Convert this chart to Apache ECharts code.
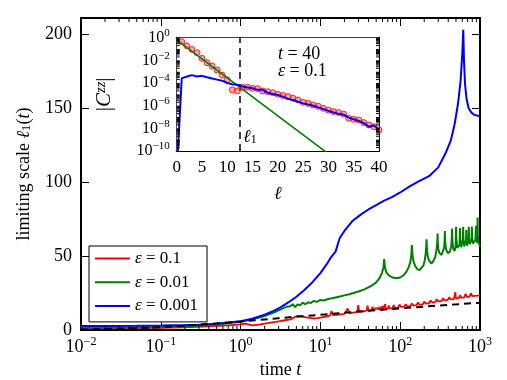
<!DOCTYPE html>
<html>
<head>
<meta charset="utf-8">
<script src="https://cdn.jsdelivr.net/npm/echarts@6/dist/echarts.min.js"></script>
<style>
  html, body { margin: 0; padding: 0; background: #fff; }
  #main { width: 507px; height: 380px; }
</style>
</head>
<body>
<div id="main"></div>
<script>
const SERIF = "'Liberation Serif', 'DejaVu Serif', serif";

// main panel: limiting scale vs time
const tBlue = [0.01, 0.02, 0.05, 0.1, 0.2, 0.3, 0.5, 0.7, 1.0, 1.4, 2.0, 2.5, 3.2, 4.0, 5.0, 6.3, 8.0, 10, 12, 13.5, 14.2, 14.8, 15.5, 17.4, 20, 25, 32, 40, 50, 63, 80, 100, 130, 170, 230, 300, 370, 430, 480, 530, 570, 600, 617, 630, 650, 680, 720, 780, 850, 1000];
const yBlue = [2.7, 2.7, 2.8, 3.0, 3.3, 3.6, 4.3, 5.0, 6.0, 7.6, 10.3, 12.5, 15.5, 18.8, 22.5, 27, 32.5, 38.5, 44.5, 49, 50.5, 49.2, 53, 62, 67, 73.5, 78, 81.5, 84.5, 87.5, 90, 93, 97, 100.5, 104, 110, 119.5, 128, 139, 153, 168, 187, 203, 182, 166, 156, 150, 147, 145.5, 144.6];

const tGreen = [0.01, 0.05, 0.1, 0.3, 0.6, 1.0, 1.5, 2.0, 2.6, 3.2, 3.8, 4.2, 4.5, 4.8, 5.2, 5.6, 6.0, 6.5, 7.0, 7.6, 8.2, 9.0, 10, 11, 12.5, 14, 16, 18, 20, 23, 26, 30, 35, 40, 45, 50, 55, 59, 61.5, 63, 64.5, 67, 72, 80, 90, 100, 110, 120, 128, 134, 138, 140, 142.5, 147, 155, 165, 175, 185, 195, 203, 209, 212, 214, 216, 221, 230, 245, 260, 275, 285, 291, 294, 296, 300, 310, 330, 345, 356, 361, 363, 366, 375, 395, 420, 437, 444, 447, 451, 462, 480, 493, 499, 502, 506, 520, 540, 553, 559, 562, 566, 580, 598, 610, 615, 620, 635, 655, 668, 674, 678, 690, 712, 720, 724, 729, 745, 770, 785, 791, 797, 815, 850, 875, 887, 891, 897, 915, 927, 933, 940, 960, 985, 1000];
const yGreen = [1.6, 1.8, 2.0, 2.8, 4.0, 5.5, 7.5, 9.5, 11.8, 14.0, 15.8, 16.0, 17.5, 15.5, 17.2, 16.8, 18.5, 17.4, 18.8, 18.2, 19.6, 19.0, 20.3, 20.0, 21.0, 21.5, 22.2, 22.8, 23.4, 24.2, 25.0, 26.0, 27.3, 28.8, 30.4, 32.2, 35, 38.5, 42, 48, 42, 39, 37, 35.5, 35, 35.5, 37, 39.5, 42.5, 46, 51, 57.4, 51, 46, 43, 41, 40.5, 41.5, 43.5, 47, 52, 57, 61.3, 55, 50, 47, 45, 46.5, 49.5, 54, 59, 65.3, 59, 55, 52, 50.7, 52, 56, 62, 67, 60, 54.5, 52, 53, 57, 63, 68.7, 60, 55, 53.5, 56, 63, 69.8, 61, 55.5, 55, 57.5, 64, 69, 61, 56, 56.5, 61, 69.8, 61, 56.5, 57, 61, 67.6, 61, 57, 58, 63, 69.8, 62, 58, 58, 62, 70, 62, 58.5, 58, 61, 67, 70.5, 62, 59, 64, 76, 63, 59, 57.5, 56.3];

const tRed = [0.01, 0.03, 0.1, 0.2, 0.4, 0.7, 1.0, 1.15, 1.2, 1.4, 1.7, 2.0, 2.5, 3.0, 3.6, 4.2, 4.6, 5.0, 5.5, 6.0, 6.6, 7.3, 8.2, 9.2, 10.5, 12, 13.2, 13.8, 14.4, 16, 18, 20, 21, 22, 23, 25, 27, 29, 29.8, 30.6, 33, 35.5, 38, 39, 40, 42, 44, 45, 46, 48, 50, 51, 53, 55, 56, 58, 60, 61, 63, 65, 66, 68, 70, 72, 74, 77, 80, 83, 86, 90, 94, 98, 102, 107, 112, 117, 122, 128, 134, 140, 146, 153, 160, 167, 175, 183, 192, 200, 210, 220, 230, 240, 252, 263, 275, 288, 300, 315, 330, 345, 360, 378, 395, 413, 430, 450, 470, 490, 500, 520, 540, 565, 585, 610, 635, 660, 685, 710, 740, 770, 800, 830, 865, 900, 935, 970, 1000];
const yRed = [1.2, 1.3, 1.5, 1.8, 2.4, 3.1, 3.8, 4.3, 3.2, 3.1, 3.6, 4.3, 5.2, 5.8, 6.6, 7.2, 8.2, 9.3, 9.6, 9.0, 8.6, 8.2, 7.9, 8.1, 8.6, 9.3, 9.8, 12.8, 10.0, 10.3, 10.6, 10.9, 11.2, 14.6, 11.3, 11.6, 11.9, 12.2, 16.9, 12.3, 12.5, 12.8, 13.1, 16.5, 13.0, 13.3, 13.4, 15.8, 13.5, 13.6, 14.8, 13.6, 14.0, 15.6, 13.7, 14.1, 16.2, 14.0, 14.5, 17.5, 14.3, 15.0, 14.4, 16.6, 14.6, 15.4, 14.8, 16.9, 15.0, 15.8, 15.2, 17.2, 15.6, 16.4, 15.8, 17.5, 16.0, 16.8, 16.2, 18.0, 16.5, 17.4, 16.8, 18.6, 17.0, 18.0, 17.4, 19.2, 17.8, 18.8, 18.1, 20.0, 18.6, 19.6, 18.9, 20.8, 19.3, 20.2, 19.6, 21.5, 20.0, 21.0, 20.4, 22.2, 20.7, 21.8, 20.9, 25.5, 21.5, 22.3, 21.4, 23.5, 21.8, 22.8, 22.0, 24.5, 22.4, 23.2, 22.6, 24.8, 22.9, 23.8, 23.1, 24.2, 23.3, 24.6, 23.6];

const tFit = [0.01, 0.03, 0.1, 0.3, 1, 3, 10, 30, 100, 300, 1000];
const yFit = [0.3, 0.9, 1.8, 3.6, 5.7, 8.0, 10.3, 12.5, 14.6, 16.5, 18.5];

// inset: |C^zz| vs distance at t = 40, eps = 0.1
const insetL = [0, 1, 2, 3, 4, 5, 6, 7, 8, 9, 10, 11, 12, 13, 14, 15, 16, 17, 18, 19, 20, 21, 22, 23, 24, 25, 26, 27, 28, 29, 30, 31, 32, 33, 34, 35, 36, 37, 38, 39, 40];
const insetBlue = [1e-12, 2.6e-4, 3.7e-4, 5.0e-4, 3.7e-4, 4.3e-4, 3.2e-4, 2.5e-4, 2.0e-4, 1.6e-4, 1.0e-4, 7.9e-5, 7.1e-5, 5.0e-5, 4.0e-5, 3.4e-5, 2.5e-5, 2.5e-5, 1.4e-5, 1.07e-5, 8.7e-6, 6.3e-6, 4.0e-6, 3.2e-6, 2.2e-6, 1.6e-6, 1.26e-6, 1.0e-6, 7.1e-7, 5.0e-7, 3.5e-7, 2.5e-7, 1.9e-7, 1.6e-7, 8.9e-8, 6.3e-8, 4.5e-8, 2.8e-8, 1.4e-8, 1.8e-8, 8.0e-9];
const insetRedL = [1, 2, 3, 4, 5, 6, 7, 8, 9, 10, 11, 12, 13, 14, 15, 16, 17, 18, 19, 20, 21, 22, 23, 24, 25, 26, 27, 28, 29, 30, 31, 32, 33, 34, 35, 36, 37, 38, 39, 40];
const insetRed = [0.45, 0.19, 0.093, 0.048, 0.015, 6.3e-3, 3.2e-3, 1.4e-3, 5.0e-4, 1.9e-4, 2.5e-5, 2.0e-5, 4.2e-5, 4.2e-5, 3.4e-5, 3.2e-5, 2.0e-5, 1.7e-5, 1.4e-5, 1.0e-5, 7.9e-6, 6.3e-6, 4.5e-6, 3.2e-6, 2.0e-6, 1.6e-6, 1.15e-6, 8.9e-7, 5.9e-7, 4.0e-7, 3.0e-7, 2.5e-7, 1.8e-7, 7.8e-8, 6.3e-8, 5.5e-8, 3.2e-8, 2.0e-8, 1.4e-8, 7.1e-9];
const fitL = [0, 30];
const fitC = [0.63, 5.6e-11];
const ell1 = 12.5;

// tick labels
const mainXSup = ['−2', '−1', '0', '1', '2', '3'];          // exponents 10^-2 .. 10^3
const insetYSup = ['−10', '', '−8', '', '−6', '', '−4', '', '−2', '', '0']; // 10^-10 .. 10^0
const minorMult = [2, 3, 4, 5, 6, 7, 8, 9];
const mainDecades = [0.01, 0.1, 1, 10, 100];
const insetDecades = [1e-10, 1e-9, 1e-8, 1e-7, 1e-6, 1e-5, 1e-4, 1e-3, 1e-2, 1e-1];

const zip = (a, b) => a.map((v, i) => [v, b[i]]);
const minorOf = decs => decs.flatMap(d => minorMult.map(m => m * d));

const supRich = (big, small) => ({
  b: { fontFamily: SERIF, fontSize: big, lineHeight: big + 4, color: '#000' },
  s: { fontFamily: SERIF, fontSize: small, lineHeight: small, verticalAlign: 'top', color: '#000' }
});
const mathRich = size => ({
  n: { fontFamily: SERIF, fontSize: size, color: '#000' },
  i: { fontFamily: SERIF, fontSize: size, fontStyle: 'italic', color: '#000' },
  sup: { fontFamily: SERIF, fontSize: size * 0.7, fontStyle: 'italic', verticalAlign: 'top', color: '#000' },
  sub: { fontFamily: SERIF, fontSize: size * 0.7, verticalAlign: 'bottom', color: '#000' }
});

// inward ticks drawn through the axes' own scales
function extraTicks(xAxisIndex, yAxisIndex, values, dim, ends, len) {
  return {
    type: 'custom', xAxisIndex, yAxisIndex, silent: true, z: 10, clip: false,
    data: values.map(v => dim === 'x' ? [v, ends[0]] : [ends[0], v]),
    renderItem(params, api) {
      const v = api.value(dim === 'x' ? 0 : 1);
      const lo = dim === 'x' ? api.coord([v, ends[0]]) : api.coord([ends[0], v]);
      const hi = dim === 'x' ? api.coord([v, ends[1]]) : api.coord([ends[1], v]);
      const segs = dim === 'x'
        ? [[lo[0], lo[1], lo[0], lo[1] - len], [hi[0], hi[1], hi[0], hi[1] + len]]
        : [[lo[0], lo[1], lo[0] + len, lo[1]], [hi[0], hi[1], hi[0] - len, hi[1]]];
      return {
        type: 'group',
        children: segs.map(s => ({
          type: 'line',
          shape: { x1: s[0], y1: s[1], x2: s[2], y2: s[3] },
          style: { stroke: '#000', lineWidth: 1 }
        }))
      };
    }
  };
}

const frame = { show: true, onZero: false, lineStyle: { color: '#000', width: 2 } };
const tick = len => ({ show: true, inside: true, length: len, lineStyle: { color: '#000', width: 1 } });

const chart = echarts.init(document.getElementById('main'));
const option = {
  animation: false,
  backgroundColor: '#fff',
  grid: [
    { left: 81, top: 18, width: 399, height: 312, outerBoundsMode: 'none', containLabel: false },
    { left: 176.7, top: 37.7, width: 202.3, height: 113.3, outerBoundsMode: 'none', containLabel: false,
      show: true, backgroundColor: '#fff', borderWidth: 0, z: 5 }
  ],
  xAxis: [
    {
      type: 'log', logBase: 10, min: 0.01, max: 1000, gridIndex: 0,
      axisLine: frame, axisTick: tick(8), splitLine: { show: false },
      axisLabel: {
        margin: 6,
        formatter: v => '{b|10}{s|' + mainXSup[Math.round(Math.log10(v)) + 2] + '}',
        rich: supRich(18, 12)
      },
      name: '{n|time }{i|t}', nameLocation: 'middle', nameGap: 28,
      nameTextStyle: { rich: mathRich(18) }
    },
    {
      type: 'log', logBase: 10, min: 0.01, max: 1000, gridIndex: 0, position: 'top',
      axisLine: frame, axisTick: tick(8), axisLabel: { show: false }, splitLine: { show: false }
    },
    {
      type: 'value', min: 0, max: 40, interval: 5, gridIndex: 1,
      axisLine: frame, axisTick: tick(6), splitLine: { show: false },
      axisLabel: { margin: 8, fontFamily: SERIF, fontSize: 17, color: '#000' },
      name: '{i|ℓ}', nameLocation: 'middle', nameGap: 34,
      nameTextStyle: { rich: mathRich(18) }
    },
    {
      type: 'value', min: 0, max: 40, interval: 5, gridIndex: 1, position: 'top',
      axisLine: frame, axisTick: tick(6), axisLabel: { show: false }, splitLine: { show: false }
    }
  ],
  yAxis: [
    {
      type: 'value', min: 0, max: 211, interval: 50, gridIndex: 0,
      axisLine: frame, axisTick: tick(8), splitLine: { show: false },
      axisLabel: { margin: 9, fontFamily: SERIF, fontSize: 18, color: '#000', showMaxLabel: false },
      name: '{n|limiting scale }{i|ℓ}{sub|1}{n|(}{i|t}{n|)}', nameLocation: 'middle', nameGap: 48,
      nameTextStyle: { rich: mathRich(18) }
    },
    {
      type: 'value', min: 0, max: 211, interval: 50, gridIndex: 0, position: 'right',
      axisLine: frame, axisTick: tick(8), axisLabel: { show: false }, splitLine: { show: false }
    },
    {
      type: 'log', logBase: 10, min: 1e-10, max: 1, interval: 1, splitNumber: 10, gridIndex: 1,
      axisLine: frame, axisTick: tick(6), splitLine: { show: false },
      axisLabel: {
        margin: 7, hideOverlap: false, showMinLabel: true, showMaxLabel: true,
        formatter: v => {
          const s = insetYSup[Math.round(Math.log10(v)) + 10];
          return s ? '{b|10}{s|' + s + '}' : '';
        },
        rich: supRich(16, 11)
      },
      name: '{n||}{i|C}{sup|zz}{n||}', nameLocation: 'middle', nameGap: 62,
      nameTextStyle: { rich: mathRich(21) }
    },
    {
      type: 'log', logBase: 10, min: 1e-10, max: 1, interval: 1, splitNumber: 10, gridIndex: 1, position: 'right',
      axisLine: frame, axisTick: tick(6), axisLabel: { show: false }, splitLine: { show: false }
    }
  ],
  legend: {
    orient: 'vertical', left: 89, top: 246,
    data: ['ε = 0.1', 'ε = 0.01', 'ε = 0.001'],
    icon: 'rect', itemWidth: 35, itemHeight: 2, itemGap: 6.7, itemTextGap: 13,
    padding: [4, 9, 7.5, 6],
    backgroundColor: '#fff', borderColor: '#000', borderWidth: 1,
    formatter: name => '{i|ε}{n|' + name.slice(1) + '}',
    textStyle: { lineHeight: 17, rich: mathRich(17) }
  },
  graphic: [
    { type: 'text', left: 278, top: 45, z: 100, style: { text: '{i|t}{n| = 40}', rich: mathRich(18) } },
    { type: 'text', left: 278, top: 62, z: 100, style: { text: '{i|ε}{n| = 0.1}', rich: mathRich(18) } },
    { type: 'text', left: 243, top: 128, z: 100, style: { text: '{i|ℓ}{sub|1}', rich: mathRich(18) } }
  ],
  series: [
    {
      name: 'ε = 0.1', type: 'line', xAxisIndex: 0, yAxisIndex: 0, showSymbol: false,
      data: zip(tRed, yRed), color: '#ff0000', lineStyle: { width: 1.8 }
    },
    {
      name: 'ε = 0.01', type: 'line', xAxisIndex: 0, yAxisIndex: 0, showSymbol: false,
      data: zip(tGreen, yGreen), color: '#008000', lineStyle: { width: 2 }
    },
    {
      name: 'ε = 0.001', type: 'line', xAxisIndex: 0, yAxisIndex: 0, showSymbol: false,
      data: zip(tBlue, yBlue), color: '#0000ff', lineStyle: { width: 2 }
    },
    {
      name: 'fit', type: 'line', xAxisIndex: 0, yAxisIndex: 0, showSymbol: false,
      data: zip(tFit, yFit), color: '#000', lineStyle: { width: 2, type: [7, 5] }
    },
    {
      name: 'inset data', type: 'scatter', xAxisIndex: 2, yAxisIndex: 2, z: 6,
      data: zip(insetRedL, insetRed), symbolSize: 6,
      itemStyle: { color: 'rgba(255,70,70,0.6)', borderColor: '#ff0000', borderWidth: 1 }
    },
    {
      name: 'inset fit', type: 'line', xAxisIndex: 2, yAxisIndex: 2, z: 7, showSymbol: false,
      data: zip(fitL, fitC), color: '#008000', lineStyle: { width: 1.6 },
      markLine: {
        silent: true, symbol: 'none', label: { show: false },
        lineStyle: { color: '#000', width: 1.5, type: [7, 5] },
        data: [{ xAxis: ell1 }]
      }
    },
    {
      name: 'inset sim', type: 'line', xAxisIndex: 2, yAxisIndex: 2, z: 8, showSymbol: false,
      data: zip(insetL, insetBlue), color: '#0000ff', lineStyle: { width: 2 }
    },
    extraTicks(0, 0, minorOf(mainDecades), 'x', [0, 211], 4),
    extraTicks(2, 2, minorOf(insetDecades), 'y', [0, 40], 3)
  ]
};
chart.setOption(option);
</script>
</body>
</html>
